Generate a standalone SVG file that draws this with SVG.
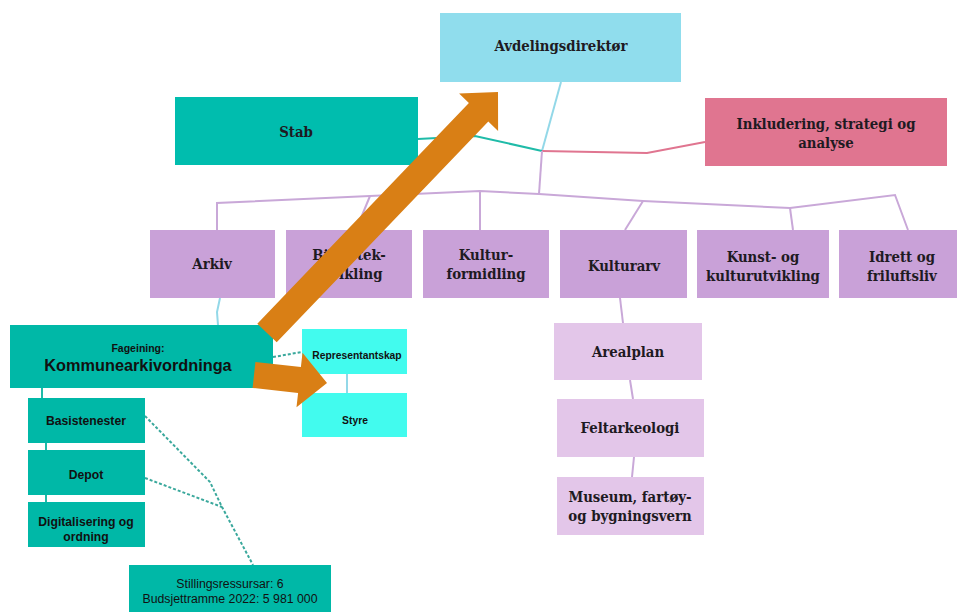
<svg xmlns="http://www.w3.org/2000/svg" width="957" height="612" viewBox="0 0 957 612">
<style>
.lead{fill:#90dded}
.teal{fill:#00bdae}
.teal2{fill:#00b8a7}
.pink{fill:#e07590}
.purple{fill:#c9a1d8}
.lilac{fill:#e3c6e9}
.cyan{fill:#42fbee}
.slab{font-family:"DejaVu Serif Condensed","DejaVu Serif",serif;font-weight:bold;font-size:14.8px;fill:#1e1a22;text-anchor:middle}
.sans{font-family:"Liberation Sans",Arial,sans-serif;fill:#111;text-anchor:middle}
.b{font-weight:bold}
.ln{fill:none;stroke-width:2}
.lp{stroke:#c9a8d8}
.lt{stroke:#1fbba8}
.lk{stroke:#e07590}
.lb{stroke:#93d8e8}
.dash{fill:none;stroke:#3aa89c;stroke-width:2;stroke-dasharray:3 2}
.arrow{fill:#d97f15}
</style>
<rect width="957" height="612" fill="#ffffff"/>
<g id="connectors">
<polyline class="ln lb" points="561,82 542,151"/>
<polyline class="ln lt" points="418,139 475,136 542,151"/>
<polyline class="ln lk" points="542,151 647,153 705,142"/>
<polyline class="ln lp" points="542,151 539,194"/>
<polyline class="ln lp" points="217,230 217,203 480,191 539,194 643,201 790,208 895,195 908,230"/>
<polyline class="ln lp" points="370,196 356,230"/>
<polyline class="ln lp" points="480,191 480,230"/>
<polyline class="ln lp" points="643,201 625,230"/>
<polyline class="ln lp" points="790,208 793,230"/>
<polyline class="ln lp" points="620,298 623,323"/>
<polyline class="ln lp" points="630,380 633,399"/>
<polyline class="ln lp" points="634,457 632,477"/>
<polyline class="ln lb" points="220,298 217,312 218,325"/>
<polyline class="ln lb" points="347,374 347,393"/>
<polyline class="ln lt" points="42,387 42,398"/>
<polyline class="ln lt" points="46,443 46,450"/>
<polyline class="ln lt" points="46,495 46,502"/>
<polyline class="dash" points="273,357 302,352"/>
<polyline class="dash" points="145,416 210,482 222,507 253,565"/>
<polyline class="dash" points="145,478 222,507"/>
</g>
<g id="avdelingsdirektor">
<rect class="lead" x="440" y="13" width="241" height="69"/>
<text class="slab" x="561" y="51">Avdelingsdirektør</text>
</g>
<g id="stab">
<rect class="teal" x="175" y="97" width="243" height="68"/>
<text class="slab" x="296" y="136.5">Stab</text>
</g>
<g id="inkludering">
<rect class="pink" x="705" y="98" width="242" height="68"/>
<text class="slab" x="826" y="128.5">Inkludering, strategi og</text>
<text class="slab" x="826" y="147.5">analyse</text>
</g>
<g id="arkiv">
<rect class="purple" x="150" y="230" width="125" height="68"/>
<text class="slab" x="212" y="268.5">Arkiv</text>
</g>
<g id="bibliotek">
<rect class="purple" x="286" y="230" width="126" height="68"/>
<text class="slab" x="349" y="259.5">Bibliotek-</text>
<text class="slab" x="349" y="278.5">utvikling</text>
</g>
<g id="kulturformidling">
<rect class="purple" x="423" y="230" width="126" height="68"/>
<text class="slab" x="486" y="259.5">Kultur-</text>
<text class="slab" x="486" y="278.5">formidling</text>
</g>
<g id="kulturarv">
<rect class="purple" x="560" y="230" width="127" height="68"/>
<text class="slab" x="624" y="271">Kulturarv</text>
</g>
<g id="kunst">
<rect class="purple" x="697" y="230" width="132" height="68"/>
<text class="slab" x="763" y="262">Kunst- og</text>
<text class="slab" x="763" y="280.5">kulturutvikling</text>
</g>
<g id="idrett">
<rect class="purple" x="839" y="230" width="127" height="68"/>
<text class="slab" x="902" y="262">Idrett og</text>
<text class="slab" x="902" y="280.5">friluftsliv</text>
</g>
<g id="arealplan">
<rect class="lilac" x="554" y="323" width="148" height="57"/>
<text class="slab" x="628" y="357">Arealplan</text>
</g>
<g id="feltarkeologi">
<rect class="lilac" x="557" y="399" width="147" height="58"/>
<text class="slab" x="630" y="433">Feltarkeologi</text>
</g>
<g id="museum">
<rect class="lilac" x="557" y="477" width="147" height="58"/>
<text class="slab" x="630" y="502">Museum, fartøy-</text>
<text class="slab" x="630" y="520.5">og bygningsvern</text>
</g>
<g id="kommunearkivordninga">
<rect class="teal2" x="10" y="325" width="263" height="63"/>
<text class="sans b" x="138" y="352" font-size="10.5">Fageining:</text>
<text class="sans b" x="138" y="371" font-size="16.3">Kommunearkivordninga</text>
</g>
<g id="representantskap">
<rect class="cyan" x="302" y="329" width="105" height="45"/>
<text class="sans b" x="357" y="358.5" font-size="10.3">Representantskap</text>
</g>
<g id="styre">
<rect class="cyan" x="302" y="393" width="105" height="44"/>
<text class="sans b" x="355" y="423.5" font-size="10.3">Styre</text>
</g>
<g id="basistenester">
<rect class="teal2" x="28" y="398" width="117" height="45"/>
<text class="sans b" x="86" y="424.5" font-size="12.2">Basistenester</text>
</g>
<g id="depot">
<rect class="teal2" x="28" y="450" width="117" height="45"/>
<text class="sans b" x="86" y="478.5" font-size="12.2">Depot</text>
</g>
<g id="digitalisering">
<rect class="teal2" x="28" y="502" width="117" height="45"/>
<text class="sans b" x="86" y="525.5" font-size="12.2">Digitalisering og</text>
<text class="sans b" x="86" y="540.5" font-size="12.2">ordning</text>
</g>
<g id="stillingsressursar">
<rect class="teal2" x="129" y="565" width="202" height="50"/>
<text class="sans" x="230" y="587.5" font-size="12.3">Stillingsressursar: 6</text>
<text class="sans" x="230" y="602.5" font-size="12.3">Budsjettramme 2022: 5 981 000</text>
</g>
<g id="arrows">
<polygon class="arrow" points="257.3,323.7 468.9,102.9 459.1,93.5 498,92 498.1,130.9 488.3,121.5 276.7,342.3"/>
<polygon class="arrow" points="255.4,362.1 300.9,367.1 302.5,352.7 327,383 296.5,407.3 298.1,392.9 252.6,387.9"/>
</g>
</svg>
